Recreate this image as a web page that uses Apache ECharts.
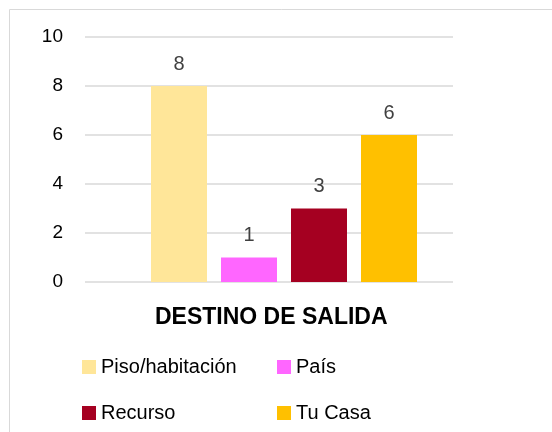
<!DOCTYPE html>
<html>
<head>
<meta charset="utf-8">
<script src="https://cdn.jsdelivr.net/npm/echarts@6/dist/echarts.min.js"></script>
<style>html,body{margin:0;padding:0;background:#fff}#c{width:552px;height:432px}</style>
</head>
<body>
<div id="c"></div>
<script>
const categories = ['DESTINO DE SALIDA'];
const seriesNames = ['Piso/habitación', 'País', 'Recurso', 'Tu Casa'];
const pisoValues = [8];
const paisValues = [1];
const recursoValues = [3];
const tuCasaValues = [6];
const yTicks = [0, 2, 4, 6, 8, 10];

const colors = ['#FFE699', '#FF66FF', '#A50021', '#FFC000'];
const valuesList = [pisoValues, paisValues, recursoValues, tuCasaValues];
const FONT = '"Liberation Sans", Arial, sans-serif';
const legendPos = [[82, 357], [277, 357], [82, 403], [277, 403]];

const chart = echarts.init(document.getElementById('c'), null, {renderer: 'canvas'});
const yMin = yTicks[0], yMax = yTicks[yTicks.length - 1], yInt = yTicks[1] - yTicks[0];

chart.setOption({
  animation: false,
  textStyle: {fontFamily: FONT},
  graphic: [{
    type: 'rect', shape: {x: 9.5, y: 9.5, width: 700, height: 700},
    style: {fill: 'none', stroke: '#d9d9d9', lineWidth: 1}, silent: true, z: -10
  }, {
    type: 'text', left: 155, top: 306, silent: true,
    style: {text: categories[0], font: 'bold 23px ' + FONT, fill: '#000'}
  }],
  legend: seriesNames.map((n, i) => ({
    data: [n], left: legendPos[i][0], top: legendPos[i][1], padding: 0,
    icon: 'rect', itemWidth: 14, itemHeight: 14, itemGap: 0,
    textStyle: {fontFamily: FONT, fontSize: 20, color: '#000'}
  })),
  grid: [
    {left: 85, right: 99, top: 37, bottom: 150},
    {left: 100, right: 84, top: 37, bottom: 150}
  ],
  xAxis: [
    {type: 'category', gridIndex: 0, data: categories, axisLine: {show: false}, axisTick: {show: false}, axisLabel: {show: false}},
    {type: 'category', gridIndex: 1, data: categories, axisLine: {show: false}, axisTick: {show: false}, axisLabel: {show: false}}
  ],
  yAxis: [
    {type: 'value', gridIndex: 0, min: yMin, max: yMax, interval: yInt,
     axisLine: {show: false}, axisTick: {show: false},
     axisLabel: {fontFamily: FONT, fontSize: 19, color: '#000', margin: 22},
     splitLine: {lineStyle: {color: '#d9d9d9', width: 1.5}}},
    {type: 'value', gridIndex: 1, min: yMin, max: yMax, interval: yInt,
     axisLine: {show: false}, axisTick: {show: false}, axisLabel: {show: false}, splitLine: {show: false}}
  ],
  series: seriesNames.map((name, i) => ({
    name, type: 'bar', xAxisIndex: 1, yAxisIndex: 1,
    data: valuesList[i], barWidth: 56, barGap: '25%',
    itemStyle: {color: colors[i]},
    label: {show: true, position: 'top', distance: 12, fontFamily: FONT, fontSize: 20, color: '#404040'}
  }))
});
</script>
</body>
</html>
